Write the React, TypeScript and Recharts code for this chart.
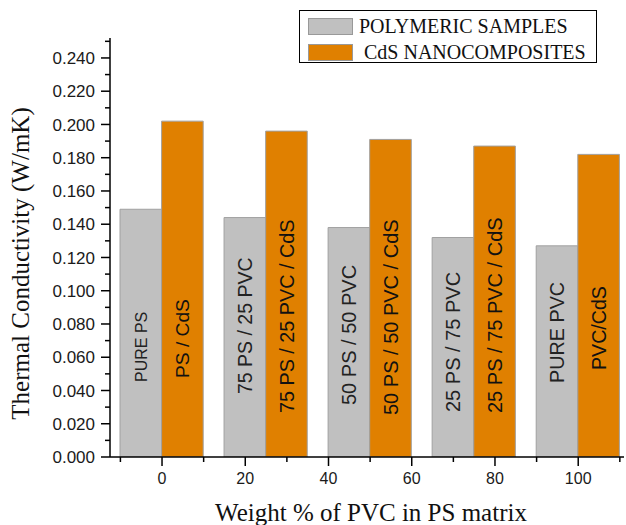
import React from 'react';
import { BarChart, Bar, XAxis, YAxis, Legend, LabelList } from 'recharts';

// group centres on the "Weight % of PVC" axis
const groupCentres = [0, 25, 50, 75, 100];
const polymericValues = [0.149, 0.144, 0.138, 0.132, 0.127];
const compositeValues = [0.202, 0.196, 0.191, 0.187, 0.182];

const polymericLabels = ['PURE PS', '75 PS / 25 PVC', '50 PS / 50 PVC', '25 PS / 75 PVC', 'PURE PVC'];
const compositeLabels = ['PS / CdS', '75 PS / 25 PVC / CdS', '50 PS / 50 PVC / CdS', '25 PS / 75 PVC / CdS', 'PVC/CdS'];
const seriesNames = ['POLYMERIC SAMPLES', 'CdS NANOCOMPOSITES'];

const xMajorTicks = [0, 20, 40, 60, 80, 100];
const xMinorTicks = [-10, 10, 30, 50, 70, 90, 110];
const yMajorTicks = [0, 0.02, 0.04, 0.06, 0.08, 0.1, 0.12, 0.14, 0.16, 0.18, 0.2, 0.22, 0.24];
const yMinorTicks = [0.01, 0.03, 0.05, 0.07, 0.09, 0.11, 0.13, 0.15, 0.17, 0.19, 0.21, 0.23, 0.25];

// label placement inside the bars (px above the bar base) and font size
const polyLift = [75, 63, 52, 45, 74];
const compLift = [79, 44, 42, 44, 87];
const polySize = [16, 19.5, 20, 20, 19.8];
const compSize = [19.2, 19.8, 20, 20, 19.6];

const data = groupCentres.map((x, i) => ({
  x,
  polymeric: polymericValues[i],
  composite: compositeValues[i],
}));

const SANS = '"Liberation Sans", Arial, sans-serif';
const SERIF = '"Liberation Serif", "Times New Roman", serif';
const GRAY = '#c0c0c0';
const ORANGE = '#e08000';

const XTick = (props: any) => {
  const { x, y, payload } = props;
  const major = xMajorTicks.includes(payload.value);
  return (
    <g>
      <line x1={x} y1={y} x2={x} y2={y + (major ? 9 : 5)} stroke="#000" strokeWidth={1.5} />
      {major && (
        <text x={x} y={y + 27} textAnchor="middle" fontSize={16} fontFamily={SANS} fill="#1a1a1a">
          {payload.value}
        </text>
      )}
    </g>
  );
};

const YTick = (props: any) => {
  const { x, y, payload } = props;
  const major = yMajorTicks.includes(payload.value);
  return (
    <g>
      <line x1={x - (major ? 9 : 5)} y1={y} x2={x} y2={y} stroke="#000" strokeWidth={1.5} />
      {major && (
        <text x={x - 15} y={y} dy="0.36em" textAnchor="end" fontSize={17} fontFamily={SANS} fill="#1a1a1a">
          {payload.value.toFixed(3)}
        </text>
      )}
    </g>
  );
};

const barLabel = (texts: string[], lift: number[], sizes: number[], color: string) => (props: any) => {
  const { x, y, width, height, index } = props;
  const cx = Number(x) + Number(width) / 2;
  const by = Number(y) + Number(height) - lift[index];
  return (
    <text
      x={cx}
      y={by}
      dy="0.36em"
      transform={`rotate(-90, ${cx}, ${by})`}
      textAnchor="start"
      fontSize={sizes[index]}
      fontFamily={SANS}
      fill={color}
    >
      {texts[index]}
    </text>
  );
};

const renderLegend = (props: any) => {
  const payload = [...(props.payload || [])].sort(
    (a: any, b: any) => seriesNames.indexOf(a.value) - seriesNames.indexOf(b.value)
  );
  return (
    <div
      style={{
        width: 298,
        height: 53,
        border: '1.5px solid #000',
        boxSizing: 'border-box',
        background: '#fff',
        position: 'relative',
      }}
    >
      {payload.map((entry: any, i: number) => (
        <div key={entry.value} style={{ position: 'absolute', left: 8, top: 5 + i * 26, display: 'flex', alignItems: 'center' }}>
          <div style={{ width: 45, height: 17, background: entry.color, border: '1px solid #999', boxSizing: 'border-box' }} />
          <span
            style={{
              marginLeft: i === 0 ? 6 : 11,
              fontFamily: SERIF,
              fontSize: 20,
              color: '#111',
              lineHeight: '20px',
            }}
          >
            {entry.value}
          </span>
        </div>
      ))}
    </div>
  );
};

export default function App() {
  return (
    <div style={{ position: 'absolute', left: 0, top: 0, background: '#fff' }}>
      <BarChart
        width={626}
        height={525}
        data={data}
        margin={{ top: 38, right: 2, bottom: 0, left: 0 }}
        barGap={0}
        barSize={41.6}
      >
        <XAxis
          dataKey="x"
          type="number"
          domain={[-12.5, 111]}
          allowDataOverflow
          ticks={[...xMinorTicks, ...xMajorTicks].sort((a, b) => a - b)}
          interval={0}
          tick={<XTick />}
          tickLine={false}
          tickSize={0}
          tickMargin={0}
          height={68}
          axisLine={{ stroke: '#000', strokeWidth: 1.5 }}
          label={{
            content: (p: any) => {
              const vb = p.viewBox;
              return (
                <text x={vb.x + vb.width / 2 + 4} y={vb.y + 64} textAnchor="middle" fontSize={25} fontFamily={SERIF} fill="#111">
                  Weight % of PVC in PS matrix
                </text>
              );
            },
          }}
        />
        <YAxis
          type="number"
          domain={[0, 0.252]}
          allowDataOverflow
          ticks={[...yMajorTicks, ...yMinorTicks].sort((a, b) => a - b)}
          interval={0}
          tick={<YTick />}
          tickLine={false}
          tickSize={0}
          tickMargin={0}
          width={110}
          axisLine={{ stroke: '#000', strokeWidth: 1.5 }}
          label={{
            content: (p: any) => {
              const vb = p.viewBox;
              const cx = 29;
              const cy = vb.y + vb.height / 2 + 16;
              return (
                <text x={cx} y={cy} transform={`rotate(-90, ${cx}, ${cy})`} textAnchor="middle" fontSize={25} fontFamily={SERIF} fill="#111">
                  Thermal Conductivity (W/mK)
                </text>
              );
            },
          }}
        />
        <Legend
          layout="vertical"
          align="center"
          verticalAlign="middle"
          content={renderLegend}
          wrapperStyle={{ position: 'absolute', left: 299, top: 10, width: 298, height: 53 }}
        />
        <Bar dataKey="polymeric" name={seriesNames[0]} fill={GRAY} stroke="#a0a0a0" strokeWidth={1} isAnimationActive={false}>
          <LabelList dataKey="polymeric" content={barLabel(polymericLabels, polyLift, polySize, '#222')} />
        </Bar>
        <Bar dataKey="composite" name={seriesNames[1]} fill={ORANGE} stroke="#a0a0a0" strokeWidth={1} isAnimationActive={false}>
          <LabelList dataKey="composite" content={barLabel(compositeLabels, compLift, compSize, '#111')} />
        </Bar>
      </BarChart>
    </div>
  );
}
